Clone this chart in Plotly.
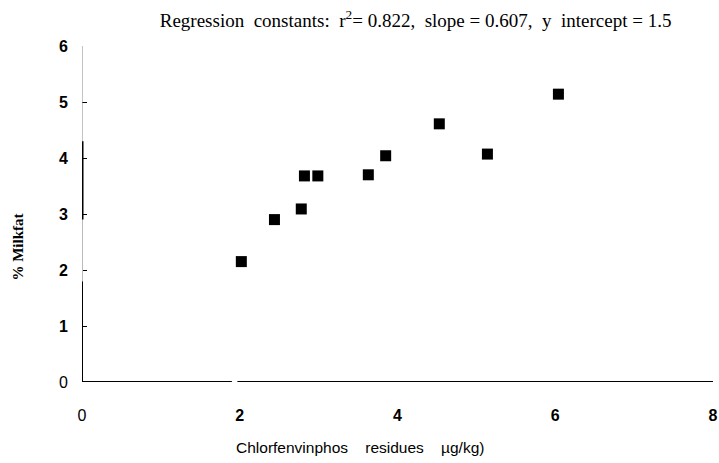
import plotly.graph_objects as go

# Data
residues = [2.02, 2.44, 2.78, 2.82, 2.99, 3.63, 3.85, 4.53, 5.14, 6.04]
milkfat = [2.15, 2.90, 3.09, 3.68, 3.68, 3.70, 4.04, 4.61, 4.07, 5.14]

x_ticks = [0, 2, 4, 6, 8]
x_ticklabels = ["0", "<b>2</b>", "<b>4</b>", "<b>6</b>", "<b>8</b>"]
y_ticks = [0, 1, 2, 3, 4, 5, 6]
y_ticklabels = ["0", "<b>1</b>", "<b>2</b>", "<b>3</b>", "<b>4</b>", "<b>5</b>", "<b>6</b>"]

title_text = "Regression  constants:  r<sup>2</sup>= 0.822,  slope = 0.607,  y  intercept = 1.5"
x_title = "Chlorfenvinphos    residues    µg/kg)"
y_title = "<b>% Milkfat</b>"

fig = go.Figure()
fig.add_trace(go.Scatter(
    x=residues, y=milkfat, mode="markers",
    marker=dict(symbol="square", size=11, color="black"),
    showlegend=False,
))

# axis line decoration (scan-like broken y axis)
shapes = [
    dict(type="line", xref="x", yref="y", x0=0, x1=0, y0=0, y1=6,
         line=dict(color="#888888", width=1)),
    dict(type="line", xref="x", yref="y", x0=0, x1=0, y0=0, y1=1.8,
         line=dict(color="black", width=2)),
    dict(type="line", xref="x", yref="y", x0=0, x1=0, y0=1.8, y1=2.9,
         line=dict(color="#bbbbbb", width=2)),
    dict(type="line", xref="x", yref="y", x0=0, x1=0, y0=2.9, y1=4.3,
         line=dict(color="black", width=3)),
    dict(type="line", xref="x", yref="y", x0=-0.05, x1=1.9, y0=0, y1=0,
         line=dict(color="black", width=2)),
    dict(type="line", xref="x", yref="y", x0=1.97, x1=8, y0=0, y1=0,
         line=dict(color="black", width=2)),
]

annotations = [
    dict(text=x_title, xref="paper", yref="paper", x=0.44, y=0,
         xanchor="center", yanchor="middle", yshift=-65, showarrow=False,
         font=dict(family="Liberation Sans", size=15.5, color="black")),
    dict(text=y_title, xref="paper", yref="paper", x=0, y=0.40,
         xanchor="center", yanchor="middle", xshift=-64, textangle=-90,
         showarrow=False,
         font=dict(family="Liberation Serif", size=15, color="black")),
]

fig.update_layout(
    width=719, height=463,
    margin=dict(l=82, r=6, t=46, b=81),
    paper_bgcolor="white", plot_bgcolor="white",
    shapes=shapes,
    annotations=annotations,
    title=dict(text=title_text, x=0.578, xanchor="center", y=0.957, yanchor="middle",
               xref="container", yref="container",
               font=dict(family="Liberation Serif", size=19, color="black")),
    xaxis=dict(range=[0, 8], showgrid=False, zeroline=False, showline=False,
               automargin=False,
               tickmode="array", tickvals=x_ticks, ticktext=x_ticklabels,
               ticks="", ticklabelstandoff=22,
               tickfont=dict(family="Liberation Sans", size=16, color="black")),
    yaxis=dict(range=[0, 6], showgrid=False, zeroline=False, showline=False,
               automargin=False,
               tickmode="array", tickvals=y_ticks, ticktext=y_ticklabels,
               ticks="inside", ticklen=5, tickcolor="black", tickwidth=1,
               ticklabelstandoff=13,
               tickfont=dict(family="Liberation Sans", size=16, color="black")),
)

fig.write_html("out.html", config={"displayModeBar": False},
               post_script="document.body.style.margin='0';")
